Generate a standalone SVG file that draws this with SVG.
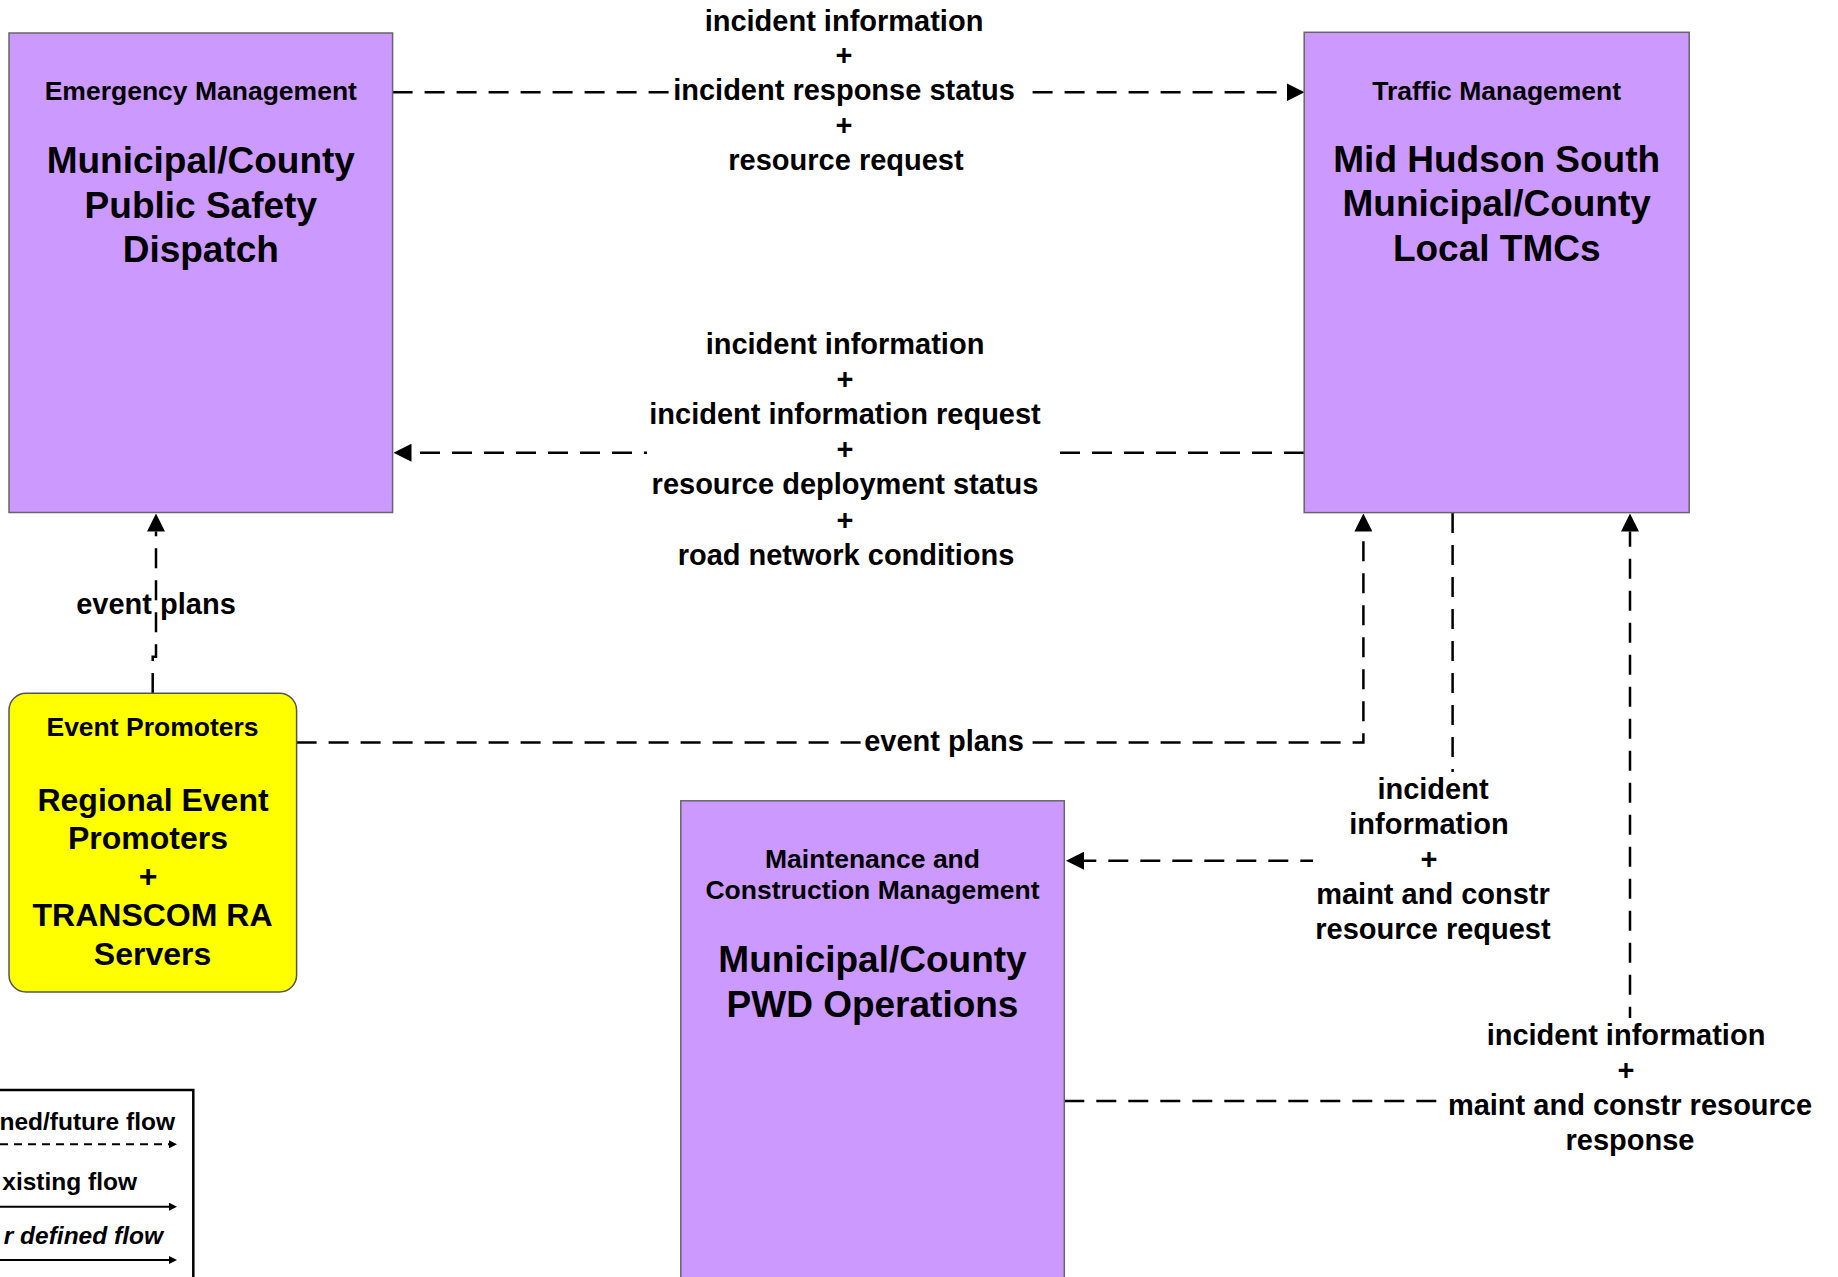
<svg xmlns="http://www.w3.org/2000/svg" width="1838" height="1277" viewBox="0 0 1838 1277">
<defs>
<style>
.box{fill:#CC99FF;stroke:#666666;stroke-width:1.5}
.ep{fill:#FFFF00;stroke:#555555;stroke-width:1.5}
.t{font-family:"Liberation Sans",Arial,sans-serif;font-weight:bold;fill:#000;text-anchor:middle}
.hdr{font-size:26.5px}
.ttl{font-size:37px}
.ept{font-size:32px}
.lbl{font-size:29px}
.leg{font-family:"Liberation Sans",Arial,sans-serif;font-weight:bold;font-size:24.5px;text-anchor:end;fill:#000}
.flow{fill:none;stroke:#000;stroke-width:2.5;stroke-dasharray:20 12}
.legline{fill:none;stroke:#000;stroke-width:2}
.bg{fill:#FFFFFF;stroke:none}
</style>
<marker id="arr" viewBox="0 0 18 18" refX="0" refY="9" markerWidth="18" markerHeight="18" markerUnits="userSpaceOnUse" orient="auto">
<path d="M0,0 L18,9 L0,18 z" fill="#000"/>
</marker>
<marker id="arrs" viewBox="0 0 8 8" refX="0" refY="4" markerWidth="8" markerHeight="8" markerUnits="userSpaceOnUse" orient="auto">
<path d="M0,0 L8,4 L0,8 z" fill="#000"/>
</marker>
</defs>
<rect width="1838" height="1277" fill="#FFFFFF"/>

<g id="connectors">
<path class="flow" d="M392.6,92.3 H1286.5" marker-end="url(#arr)"/>
<path class="flow" d="M1304,452.7 H411.5" marker-end="url(#arr)"/>
<path class="flow" d="M152.7,693 V656.7 H156 V531.5" marker-end="url(#arr)"/>
<path class="flow" d="M296.6,742.5 H1363.4 V531.5" marker-end="url(#arr)"/>
<path class="flow" d="M1452.6,513 V860.7 H1084" marker-end="url(#arr)"/>
<path class="flow" d="M1064.3,1101 H1630 V531.5" marker-end="url(#arr)"/>
<rect class="bg" x="669" y="80" width="360" height="24"/>
<rect class="bg" x="647" y="440" width="412" height="26"/>
<rect class="bg" x="861" y="730" width="170" height="26"/>
<rect class="bg" x="1313" y="772" width="145" height="95"/>
<rect class="bg" x="1437" y="1018" width="200" height="90"/>
<g class="t lbl">
<text x="844" y="30.6">incident information</text>
<text x="844" y="65.4">+</text>
<text x="844" y="100.2">incident response status</text>
<text x="844" y="135">+</text>
<text x="846" y="169.8">resource request</text>
<text x="845" y="354">incident information</text>
<text x="845" y="389.1">+</text>
<text x="845" y="424.2">incident information request</text>
<text x="845" y="459.3">+</text>
<text x="845" y="494.4">resource deployment status</text>
<text x="845" y="529.5">+</text>
<text x="846" y="564.6">road network conditions</text>
<text x="156" y="614">event plans</text>
<text x="944" y="751">event plans</text>
<text x="1433" y="799">incident</text>
<text x="1429" y="834">information</text>
<text x="1429" y="869">+</text>
<text x="1433" y="904">maint and constr</text>
<text x="1433" y="939">resource request</text>
<text x="1626" y="1045">incident information</text>
<text x="1626" y="1080">+</text>
<text x="1630" y="1115">maint and constr resource</text>
<text x="1630" y="1150">response</text>
</g>
</g>

<g id="emergency-management">
<rect class="box" x="9" y="33" width="383.6" height="479.5"/>
<text class="t hdr" x="200.8" y="100">Emergency Management</text>
<text class="t ttl" x="200.8" y="173">Municipal/County</text>
<text class="t ttl" x="200.8" y="217.5">Public Safety</text>
<text class="t ttl" x="200.8" y="262">Dispatch</text>
</g>

<g id="traffic-management">
<rect class="box" x="1304.2" y="32.3" width="385" height="480.3"/>
<text class="t hdr" x="1496.7" y="99.5">Traffic Management</text>
<text class="t ttl" x="1496.7" y="171.5">Mid Hudson South</text>
<text class="t ttl" x="1496.7" y="216">Municipal/County</text>
<text class="t ttl" x="1496.7" y="261">Local TMCs</text>
</g>

<g id="event-promoters">
<rect class="ep" x="9" y="693.2" width="287.6" height="298.8" rx="17" ry="17"/>
<text class="t hdr" x="152.5" y="736">Event Promoters</text>
<text class="t ept" x="153" y="810.6">Regional Event</text>
<text class="t ept" x="148" y="849">Promoters</text>
<text class="t ept" x="148" y="887.4">+</text>
<text class="t ept" x="152.5" y="925.8">TRANSCOM RA</text>
<text class="t ept" x="152.5" y="964.5">Servers</text>
</g>

<g id="maintenance-construction">
<rect class="box" x="680.8" y="800.8" width="383.5" height="500"/>
<text class="t hdr" x="872.5" y="867.7">Maintenance and</text>
<text class="t hdr" x="872.5" y="899.3">Construction Management</text>
<text class="t ttl" x="872.5" y="972">Municipal/County</text>
<text class="t ttl" x="872.5" y="1016.5">PWD Operations</text>
</g>

<g id="legend">
<rect x="-10" y="1090" width="203.3" height="220" fill="#FFFFFF" stroke="#000" stroke-width="2.5"/>
<text class="leg" x="175" y="1129.5">ned/future flow</text>
<path class="legline" d="M0,1144.3 H169" stroke-dasharray="8 6" marker-end="url(#arrs)"/>
<text class="leg" x="137" y="1190">xisting flow</text>
<path class="legline" d="M0,1206.7 H169" marker-end="url(#arrs)"/>
<text class="leg" x="163" y="1244" font-style="italic">r defined flow</text>
<path class="legline" d="M0,1260 H169" marker-end="url(#arrs)"/>
</g>
</svg>
